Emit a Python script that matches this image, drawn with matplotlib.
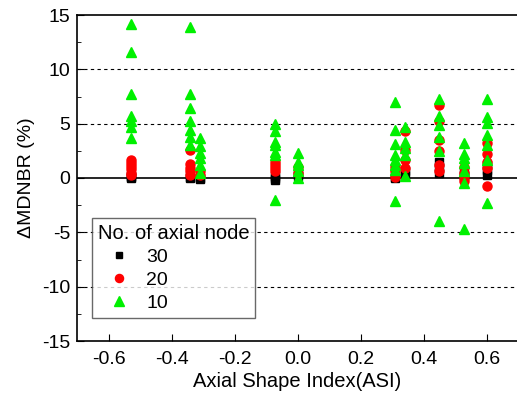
import matplotlib
matplotlib.use("Agg")
import matplotlib.pyplot as plt
from matplotlib.ticker import MultipleLocator

plt.rcParams['font.family'] = ['Liberation Sans', 'DejaVu Sans']
plt.rcParams['axes.unicode_minus'] = False

# ASI positions of each case
asi = [-0.53, -0.34, -0.31, -0.07, 0.00, 0.31, 0.34, 0.45, 0.53, 0.60]

# Delta MDNBR (%) for 30 axial nodes
n30 = [[0.0, 0.1, 0.2], [0.0, 0.1], [-0.1, 0.0], [-0.2, 0.0, 0.2], [0.2, 0.4],
       [0.0, 0.1], [0.3, 0.6], [0.5, 1.0, 1.5], [0.3, 0.6], [0.3, 0.7, 1.2]]
# Delta MDNBR (%) for 20 axial nodes
n20 = [[0.3, 0.5, 0.8, 1.1, 1.4, 1.7], [0.3, 0.6, 0.9, 1.3, 2.6], [0.3, 0.6],
       [0.6, 0.9, 1.2, 1.5], [0.5, 1.0], [0.1, 0.6, 1.0],
       [0.9, 1.7, 2.6, 4.3], [0.6, 1.2, 2.5, 3.5, 5.2, 6.7],
       [-0.3, 0.0, 0.5, 1.0], [-0.7, 0.9, 1.5, 2.2, 3.2]]
# Delta MDNBR (%) for 10 axial nodes
n10 = [[3.7, 4.7, 5.2, 5.7, 7.7, 11.6, 14.2],
       [3.0, 3.8, 4.4, 5.2, 6.4, 7.7, 13.9],
       [0.5, 1.2, 1.8, 2.3, 2.9, 3.7],
       [-2.0, 2.1, 2.4, 3.0, 3.3, 4.3, 5.0],
       [0.0, 0.6, 1.2, 1.5, 2.3],
       [-2.1, 0.7, 1.2, 1.7, 2.1, 3.1, 4.4, 7.0],
       [0.2, 2.1, 2.8, 3.3, 4.7],
       [-4.0, 2.5, 3.8, 4.9, 5.7, 7.3],
       [-4.7, -0.5, 0.6, 1.4, 1.8, 2.2, 3.2],
       [-2.3, 1.7, 3.0, 4.0, 5.1, 5.6, 7.3]]

def flat(groups):
    xs, ys = [], []
    for x, g in zip(asi, groups):
        for v in g:
            xs.append(x)
            ys.append(v)
    return xs, ys

fig = plt.figure(figsize=(5.17, 4.07), dpi=100)
ax = fig.add_axes([77/517, 66/407, 441/517, 326/407])

for yv in [-10, -5, 5, 10]:
    ax.axhline(yv, color='black', lw=0.8, ls=(0, (3, 3)), zorder=0)
ax.axhline(0, color='black', lw=1.2, zorder=0)

x10, y10 = flat(n10)
x20, y20 = flat(n20)
x30, y30 = flat(n30)
ax.plot(x30, y30, 's', color='black', ms=5.5, ls='none', label='30', zorder=2)
ax.plot(x20, y20, 'o', color='#ff0000', ms=6.5, ls='none', label='20', zorder=3)
ax.plot(x10, y10, '^', color='#00f000', ms=7.5, ls='none', label='10', zorder=4)

ax.set_xlim(-0.7, 0.7)
ax.set_ylim(-15, 15)
ax.yaxis.set_major_locator(MultipleLocator(5))
ax.yaxis.set_minor_locator(MultipleLocator(2.5))
ax.set_xticks([-0.6, -0.4, -0.2, 0.0, 0.2, 0.4, 0.6])
ax.set_xticklabels(['-0.6', '-0.4', '-0.2', '0.0', '0.2', '0.4', '0.6'])
ax.tick_params(axis='both', which='both', direction='in', labelsize=14)
ax.tick_params(axis='both', which='major', length=5)
ax.tick_params(axis='y', which='minor', length=3)
ax.tick_params(axis='x', pad=7)
ax.tick_params(axis='y', pad=5)
ax.spines['right'].set_visible(False)
for s in ['left', 'bottom', 'top']:
    ax.spines[s].set_linewidth(1.2)

ax.set_xlabel('Axial Shape Index(ASI)', fontsize=14.5, labelpad=3)
ax.set_ylabel('ΔMDNBR (%)', fontsize=14, labelpad=5)

leg = ax.legend(title='No. of axial node', loc='lower left',
                bbox_to_anchor=(15/441, 23/326), borderaxespad=0,
                fontsize=14, title_fontsize=14.5, frameon=True, fancybox=False,
                edgecolor='#444444', handletextpad=0.3, borderpad=0.3,
                labelspacing=0.28, handlelength=2.2, markerscale=0.9)
leg.get_frame().set_linewidth(1.0)
leg._legend_box.align = 'left'

fig.savefig('out.png', dpi=100)
